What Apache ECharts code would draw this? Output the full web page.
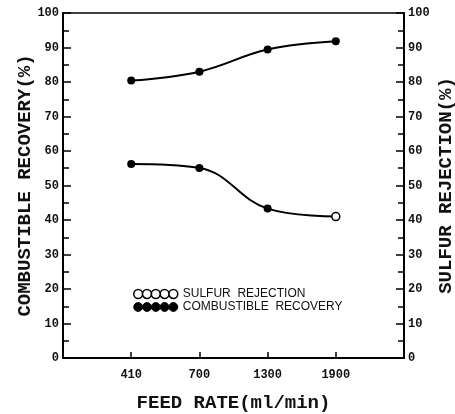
<!DOCTYPE html>
<html>
<head>
<meta charset="utf-8">
<script src="https://cdn.jsdelivr.net/npm/echarts@6/dist/echarts.min.js"></script>
<style>
  html, body { margin: 0; padding: 0; background: #fff; }
  #chart { width: 455px; height: 414px; }
</style>
</head>
<body>
<div id="chart"></div>
<script>
// feed rate categories (ml/min)
var feedRates = ["410", "700", "1300", "1900"];
// combustible recovery (%) - left axis
var combustibleRecovery = [80.4, 83.0, 89.4, 91.8];
// sulfur rejection (%) - right axis
var sulfurRejection = [56.2, 55.1, 43.3, 41.0];

var FONT = "Liberation Mono";

// five little circles, used as legend icon
var fiveDots = "path://" + [0, 8, 16, 24, 32].map(function (x) {
  return "M" + x + ",4a4,4 0 1,0 8,0a4,4 0 1,0 -8,0Z";
}).join(" ");

function toPoints(arr) {
  return arr.map(function (v, i) { return [i + 1, v]; });
}

var sulfurData = toPoints(sulfurRejection).map(function (p, i) {
  // last point is drawn as open circle in the original
  if (i === sulfurRejection.length - 1) {
    return { value: p, itemStyle: { color: "#fff", borderColor: "#000", borderWidth: 1.5 } };
  }
  return { value: p };
});

var yAxisBase = {
  type: "value",
  min: 0,
  max: 100,
  interval: 10,
  nameLocation: "middle",
  nameMoveOverlap: false,
  nameTextStyle: { fontFamily: FONT, fontWeight: "bold", fontSize: 19, color: "#111" },
  axisLine: { show: true, lineStyle: { color: "#000", width: 2 } },
  axisTick: { show: true, inside: true, length: 8, lineStyle: { color: "#000", width: 1.5 } },
  minorTick: { show: true, splitNumber: 2, length: 6, lineStyle: { color: "#000", width: 1.5 } },
  axisLabel: { margin: 4, fontFamily: FONT, fontWeight: "bold", fontSize: 12, color: "#111" },
  splitLine: { show: false },
};

var chart = echarts.init(document.getElementById("chart"));

var option = {
  backgroundColor: "#fff",
  animation: false,
  grid: {
    left: 63,
    right: 51,
    top: 13,
    bottom: 56,
    outerBoundsMode: "none",
    containLabel: false,
    show: true,
    borderColor: "#000",
    borderWidth: 1.5,
  },
  legend: {
    left: 128,
    top: 283,
    orient: "vertical",
    itemWidth: 44,
    itemHeight: 9,
    itemGap: 1,
    textStyle: { fontFamily: "Liberation Sans", fontSize: 12, color: "#111", lineHeight: 12 },
    data: [
      {
        name: "SULFUR  REJECTION",
        icon: fiveDots,
        itemStyle: { color: "#fff", borderColor: "#000", borderWidth: 1.5 },
      },
      {
        name: "COMBUSTIBLE  RECOVERY",
        icon: fiveDots,
        itemStyle: { color: "#000", borderColor: "#000", borderWidth: 1 },
      },
    ],
  },
  xAxis: {
    type: "value",
    min: 0,
    max: 5,
    interval: 1,
    name: "FEED RATE(ml/min)",
    nameLocation: "middle",
    nameGap: 36,
    nameTextStyle: { fontFamily: FONT, fontWeight: "bold", fontSize: 19, color: "#111" },
    axisLine: { show: true, lineStyle: { color: "#000", width: 2 } },
    axisTick: { show: true, inside: true, length: 6, lineStyle: { color: "#000", width: 1.5 } },
    axisLabel: {
      margin: 11,
      fontFamily: FONT,
      fontWeight: "bold",
      fontSize: 12,
      color: "#111",
      formatter: function (v) {
        return feedRates[v - 1] || "";
      },
    },
    splitLine: { show: false },
  },
  yAxis: [
    Object.assign({}, yAxisBase, {
      position: "left",
      name: "COMBUSTIBLE RECOVERY(%)",
      nameGap: 28,
    }),
    Object.assign({}, yAxisBase, {
      position: "right",
      name: "SULFUR REJECTION(%)",
      nameGap: 33,
      nameRotate: 90,
    }),
  ],
  series: [
    {
      name: "COMBUSTIBLE  RECOVERY",
      type: "line",
      yAxisIndex: 0,
      smooth: 0.4,
      symbol: "circle",
      symbolSize: 8,
      lineStyle: { color: "#000", width: 2 },
      itemStyle: { color: "#000" },
      data: toPoints(combustibleRecovery),
    },
    {
      name: "SULFUR  REJECTION",
      type: "line",
      yAxisIndex: 1,
      smooth: 0.4,
      symbol: "circle",
      symbolSize: 8,
      lineStyle: { color: "#000", width: 2 },
      itemStyle: { color: "#000" },
      data: sulfurData,
    },
  ],
};

chart.setOption(option);
</script>
</body>
</html>
